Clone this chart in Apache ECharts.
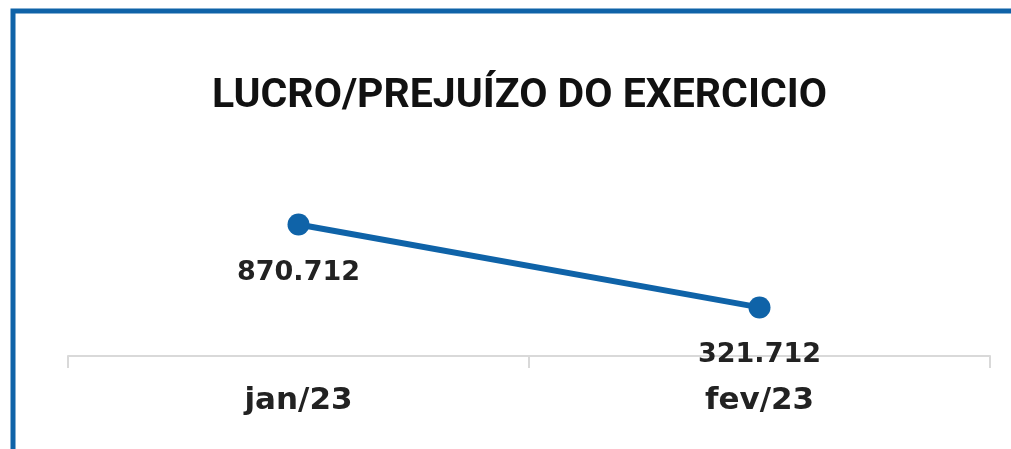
<!DOCTYPE html>
<html>
<head>
<meta charset="utf-8">
<script src="https://cdn.jsdelivr.net/npm/echarts@6/dist/echarts.min.js"></script>
<style>
  html, body { margin: 0; padding: 0; background: #fff; }
  #chart { width: 1011px; height: 449px; }
</style>
</head>
<body>
<div id="chart"></div>
<script>
// dados do grafico
var meses = ['jan/23', 'fev/23'];
var resultado = [870712, 321712];

var chart = echarts.init(document.getElementById('chart'));

var option = {
  animation: false,
  backgroundColor: '#fff',
  title: {
    text: 'LUCRO/PREJUÍZO DO EXERCICIO',
    left: 207,
    top: 71,
    textStyle: {
      fontFamily: 'Roboto',
      fontWeight: 'bold',
      fontSize: 41,
      color: '#111'
    }
  },
  graphic: [{
    type: 'rect',
    shape: { x: 13, y: 11, width: 1100, height: 500 },
    style: { fill: 'none', stroke: '#0f63a8', lineWidth: 5 }
  }],
  grid: { left: 68, right: 21, top: 205, bottom: 93 },
  xAxis: {
    type: 'category',
    data: meses,
    boundaryGap: true,
    axisLine: { lineStyle: { color: '#d9d9d9', width: 2 } },
    axisTick: { show: true, length: 12, lineStyle: { color: '#d9d9d9', width: 2 } },
    axisLabel: {
      margin: 29,
      fontFamily: 'DejaVu Sans',
      fontWeight: 'bold',
      fontSize: 31,
      color: '#222'
    }
  },
  yAxis: {
    type: 'value',
    min: 0,
    max: 1000000,
    show: false,
    splitLine: { show: false }
  },
  series: [{
    type: 'line',
    data: resultado,
    symbol: 'circle',
    symbolSize: 22,
    lineStyle: { color: '#0f63a8', width: 6 },
    itemStyle: { color: '#0f63a8' },
    label: {
      show: true,
      position: 'inside',
      offset: [0, 48],
      fontFamily: 'DejaVu Sans',
      fontWeight: 'bold',
      fontSize: 27,
      color: '#222',
      formatter: function (p) {
        return (p.value / 1000).toFixed(3);
      }
    }
  }]
};

chart.setOption(option);
</script>
</body>
</html>
